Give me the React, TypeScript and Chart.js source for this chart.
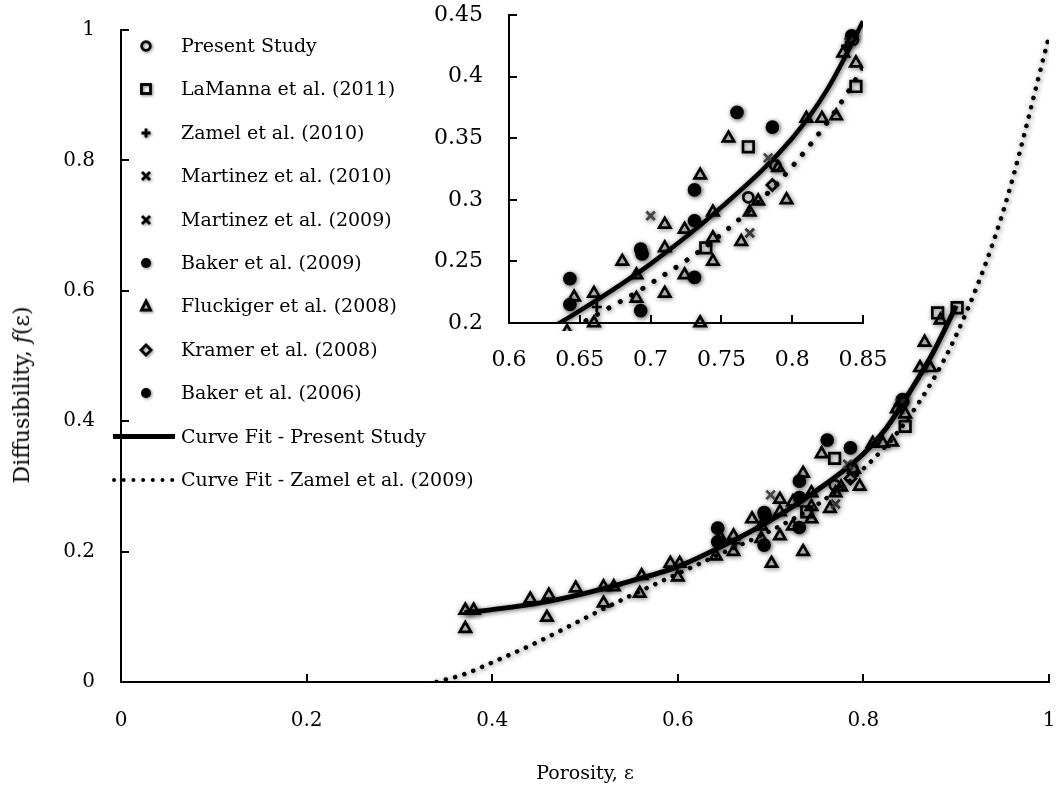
import React, { useEffect, useRef } from "react";
import { Chart, registerables } from "chart.js";

Chart.register(...registerables);

// ---------- tick values ----------
const mainXTicks = [0, 0.2, 0.4, 0.6, 0.8, 1];
const mainYTicks = [0, 0.2, 0.4, 0.6, 0.8, 1];
const insetXTicks = [0.6, 0.65, 0.7, 0.75, 0.8, 0.85];
const insetYTicks = [0.2, 0.25, 0.3, 0.35, 0.4, 0.45];

// ---------- series (porosity, diffusibility) ----------
const presentStudyX = [0.769, 0.788, 0.843];
const presentStudyY = [0.302, 0.328, 0.43];

const laMannaX = [0.739, 0.769, 0.845, 0.88, 0.901];
const laMannaY = [0.261, 0.343, 0.392, 0.566, 0.574];

const zamel2010X = [0.662, 0.838];
const zamel2010Y = [0.213, 0.425];

const martinez2010X = [0.7, 0.783];
const martinez2010Y = [0.287, 0.334];

const martinez2009X = [0.77, 0.84];
const martinez2009Y = [0.273, 0.428];

const baker2009X = [0.643, 0.643, 0.693, 0.694, 0.693, 0.731, 0.731, 0.731];
const baker2009Y = [0.236, 0.215, 0.26, 0.256, 0.21, 0.308, 0.283, 0.237];

const fluckigerX = [
  0.371, 0.38, 0.371, 0.441, 0.461, 0.459, 0.49, 0.52, 0.531, 0.52, 0.561, 0.559,
  0.592, 0.602, 0.6, 0.641, 0.701, 0.646, 0.66, 0.66, 0.68, 0.69, 0.69, 0.71,
  0.71, 0.71, 0.724, 0.724, 0.735, 0.735, 0.744, 0.744, 0.744, 0.755, 0.764, 0.77,
  0.776, 0.79, 0.796, 0.81, 0.821, 0.831, 0.836, 0.845, 0.861, 0.872, 0.866, 0.883,
];
const fluckigerY = [
  0.11, 0.11, 0.082, 0.127, 0.133, 0.099, 0.144, 0.146, 0.146, 0.121, 0.163, 0.136,
  0.182, 0.182, 0.161, 0.193, 0.182, 0.221, 0.224, 0.2, 0.25, 0.239, 0.22, 0.28,
  0.261, 0.224, 0.276, 0.239, 0.32, 0.2, 0.29, 0.269, 0.25, 0.35, 0.266, 0.29,
  0.299, 0.326, 0.3, 0.366, 0.366, 0.368, 0.419, 0.411, 0.482, 0.482, 0.521, 0.555,
];

const kramerX = [0.786];
const kramerY = [0.312];

const baker2006X = [0.761, 0.786, 0.842];
const baker2006Y = [0.371, 0.359, 0.433];

// curve fits
const fitPresentX = [0.37, 0.4, 0.45, 0.5, 0.55, 0.6, 0.65, 0.7, 0.75, 0.8, 0.825, 0.85, 0.875, 0.9];
const fitPresentY = [0.106, 0.111, 0.121, 0.136, 0.155, 0.177, 0.21, 0.248, 0.294, 0.35, 0.39, 0.445, 0.505, 0.577];

const fitZamelX = [0.34, 0.37, 0.4, 0.45, 0.5, 0.55, 0.6, 0.65, 0.7, 0.75, 0.8, 0.85, 0.9, 0.95, 1.0];
const fitZamelY = [0.0, 0.012, 0.03, 0.062, 0.098, 0.133, 0.166, 0.199, 0.232, 0.272, 0.327, 0.408, 0.532, 0.719, 0.99];

const FONT = "'DejaVu Serif', serif";

const zip = (xs: number[], ys: number[]) => xs.map((x, i) => ({ x, y: ys[i] }));

type Mk = { label: string; xs: number[]; ys: number[]; style: string; r: number; fill: boolean; color: string };

const markerSeries: Mk[] = [
  { label: "Present Study", xs: presentStudyX, ys: presentStudyY, style: "circle", r: 5, fill: false, color: "#000" },
  { label: "LaManna et al. (2011)", xs: laMannaX, ys: laMannaY, style: "rect", r: 7.5, fill: false, color: "#000" },
  { label: "Zamel et al. (2010)", xs: zamel2010X, ys: zamel2010Y, style: "cross", r: 5, fill: false, color: "#000" },
  { label: "Martinez et al. (2010)", xs: martinez2010X, ys: martinez2010Y, style: "crossRot", r: 6, fill: false, color: "#444" },
  { label: "Martinez et al. (2009)", xs: martinez2009X, ys: martinez2009Y, style: "crossRot", r: 6, fill: false, color: "#333" },
  { label: "Baker et al. (2009)", xs: baker2009X, ys: baker2009Y, style: "circle", r: 5.5, fill: true, color: "#000" },
  { label: "Fluckiger et al. (2008)", xs: fluckigerX, ys: fluckigerY, style: "triangle", r: 6.5, fill: false, color: "#000" },
  { label: "Kramer et al. (2008)", xs: kramerX, ys: kramerY, style: "rectRot", r: 5.5, fill: false, color: "#000" },
  { label: "Baker et al. (2006)", xs: baker2006X, ys: baker2006Y, style: "circle", r: 5.5, fill: true, color: "#000" },
];

function buildDatasets(inset: boolean) {
  const ds: any[] = markerSeries.map((m) => ({
    label: m.label,
    data: zip(m.xs, m.ys),
    pointStyle: m.style,
    pointRadius: m.r,
    pointBorderWidth: 2.7,
    pointBorderColor: m.color,
    pointBackgroundColor: m.fill ? m.color : "rgba(255,255,255,0)",
    showLine: false,
    clip: inset ? 8 : 10,
  }));
  ds.push({
    label: "Curve Fit - Present Study",
    data: zip(fitPresentX, fitPresentY),
    showLine: true,
    borderColor: "#000",
    borderWidth: inset ? 4.5 : 5,
    pointRadius: 0,
    cubicInterpolationMode: "monotone",
    clip: 0,
  });
  ds.push({
    label: "Curve Fit - Zamel et al. (2009)",
    data: zip(fitZamelX, fitZamelY),
    showLine: true,
    borderColor: "#000",
    borderWidth: inset ? 5 : 4.5,
    borderDash: inset ? [0.1, 13] : [0.1, 9.5],
    borderCapStyle: "round",
    pointRadius: 0,
    cubicInterpolationMode: "monotone",
    clip: 0,
  });
  return ds;
}

const insideTicks = {
  id: "insideTicks",
  afterDraw(chart: any, _args: any, opts: any) {
    const { ctx, chartArea, scales } = chart;
    const len = opts.len ?? 8;
    ctx.save();
    ctx.strokeStyle = "#000";
    ctx.lineWidth = 2;
    ctx.beginPath();
    scales.x.ticks.forEach((t: any) => {
      const px = Math.round(scales.x.getPixelForValue(t.value));
      ctx.moveTo(px, chartArea.bottom);
      ctx.lineTo(px, chartArea.bottom - len);
    });
    scales.y.ticks.forEach((t: any) => {
      const py = Math.round(scales.y.getPixelForValue(t.value));
      ctx.moveTo(chartArea.left, py);
      ctx.lineTo(chartArea.left + len, py);
    });
    ctx.stroke();
    ctx.restore();
  },
};

const shadowPlugin = {
  id: "markerShadow",
  beforeDatasetsDraw(chart: any) {
    const ctx = chart.ctx;
    ctx.save();
    ctx.shadowColor = "rgba(0,0,0,0.6)";
    ctx.shadowBlur = 5;
    ctx.shadowOffsetX = 1;
    ctx.shadowOffsetY = 1;
  },
  afterDatasetsDraw(chart: any) {
    chart.ctx.restore();
  },
};

const zeroPad = (s: any) => {
  s.paddingLeft = 0;
  s.paddingRight = 0;
  s.paddingTop = 0;
  s.paddingBottom = 0;
};

function makeOptions(p: {
  xMin: number; xMax: number; yMin: number; yMax: number;
  xTicks: number[]; yTicks: number[];
  padding: any; yWidth: number; xHeight: number;
  fontSize: number; yPad: number; xPad: number;
}) {
  const tickFont = { family: FONT, size: p.fontSize };
  return {
    responsive: false,
    animation: false,
    layout: { padding: p.padding },
    plugins: { legend: { display: false }, tooltip: { enabled: false }, insideTicks: { len: 8 } },
    scales: {
      x: {
        type: "linear",
        min: p.xMin,
        max: p.xMax,
        afterBuildTicks: (s: any) => { s.ticks = p.xTicks.map((v) => ({ value: v })); },
        afterFit: (s: any) => { s.height = p.xHeight; zeroPad(s); },
        grid: { display: false, drawTicks: false },
        border: { display: true, color: "#000", width: 2 },
        ticks: { color: "#000", font: tickFont, padding: p.xPad, maxRotation: 0, autoSkip: false, callback: (v: any) => String(v) },
      },
      y: {
        type: "linear",
        min: p.yMin,
        max: p.yMax,
        afterBuildTicks: (s: any) => { s.ticks = p.yTicks.map((v) => ({ value: v })); },
        afterFit: (s: any) => { s.width = p.yWidth; zeroPad(s); },
        grid: { display: false, drawTicks: false },
        border: { display: true, color: "#000", width: 2 },
        ticks: { color: "#000", font: tickFont, padding: p.yPad, autoSkip: false, callback: (v: any) => String(v) },
      },
    },
  };
}

function LegendMarker({ kind, color }: { kind: string; color: string }) {
  const c = color;
  const common = { stroke: c, strokeWidth: 2.8, fill: "none" } as any;
  let el: any = null;
  if (kind === "circle") el = <circle cx={8} cy={8} r={4.3} {...common} />;
  else if (kind === "filled") el = <circle cx={8} cy={8} r={5} fill={c} />;
  else if (kind === "rect") el = <rect x={3.5} y={3.5} width={9} height={9} {...common} />;
  else if (kind === "cross") el = <path d="M8 3.5 V12.5 M3.5 8 H12.5" {...common} />;
  else if (kind === "crossRot") el = <path d="M4 4 L12 12 M12 4 L4 12" {...common} />;
  else if (kind === "triangle") el = <path d="M8 3 L12.5 12 L3.5 12 Z" {...common} strokeLinejoin="miter" />;
  else if (kind === "rectRot") el = <path d="M8 3 L13 8 L8 13 L3 8 Z" {...common} />;
  return (
    <svg width={16} height={16} style={{ position: "absolute", left: 138, top: -8, filter: "drop-shadow(1px 1px 1.5px rgba(0,0,0,0.5))" }}>
      {el}
    </svg>
  );
}

const legendRows = [
  { label: "Present Study", kind: "circle", color: "#000" },
  { label: "LaManna et al. (2011)", kind: "rect", color: "#000" },
  { label: "Zamel et al. (2010)", kind: "cross", color: "#000" },
  { label: "Martinez et al. (2010)", kind: "crossRot", color: "#000" },
  { label: "Martinez et al. (2009)", kind: "crossRot", color: "#000" },
  { label: "Baker et al. (2009)", kind: "filled", color: "#000" },
  { label: "Fluckiger et al. (2008)", kind: "triangle", color: "#000" },
  { label: "Kramer et al. (2008)", kind: "rectRot", color: "#000" },
  { label: "Baker et al. (2006)", kind: "filled", color: "#000" },
  { label: "Curve Fit - Present Study", kind: "solid", color: "#000" },
  { label: "Curve Fit - Zamel et al. (2009)", kind: "dotted", color: "#000" },
];

export default function App() {
  const mainRef = useRef<HTMLCanvasElement | null>(null);
  const insetRef = useRef<HTMLCanvasElement | null>(null);

  useEffect(() => {
    const main = new Chart(mainRef.current as HTMLCanvasElement, {
      type: "scatter",
      data: { datasets: buildDatasets(false) },
      options: makeOptions({
        xMin: 0, xMax: 1, yMin: 0, yMax: 1,
        xTicks: mainXTicks, yTicks: mainYTicks,
        padding: { left: 0, top: 30, right: 11, bottom: 0 },
        yWidth: 121, xHeight: 114, fontSize: 20, yPad: 26, xPad: 27,
      }) as any,
      plugins: [insideTicks, shadowPlugin],
    });
    const inset = new Chart(insetRef.current as HTMLCanvasElement, {
      type: "scatter",
      data: { datasets: buildDatasets(true) },
      options: makeOptions({
        xMin: 0.6, xMax: 0.85, yMin: 0.2, yMax: 0.45,
        xTicks: insetXTicks, yTicks: insetYTicks,
        padding: { left: 0, top: 15, right: 57, bottom: 0 },
        yWidth: 89, xHeight: 57, fontSize: 22, yPad: 26, xPad: 24,
      }) as any,
      plugins: [insideTicks, shadowPlugin],
    });
    return () => {
      main.destroy();
      inset.destroy();
    };
  }, []);

  const rowTop = (i: number) => 46 + i * 43.4;

  return (
    <div style={{ position: "absolute", left: 0, top: 0, width: 1060, height: 796, background: "#fff", overflow: "hidden" }}>
      <canvas ref={mainRef} width={1060} height={796} style={{ position: "absolute", left: 0, top: 0 }} />
      <canvas ref={insetRef} width={500} height={380} style={{ position: "absolute", left: 420, top: 0 }} />
      {legendRows.map((r, i) => (
        <div key={r.label} style={{ position: "absolute", left: 0, top: rowTop(i), width: 480, height: 0 }}>
          {r.kind === "solid" ? (
            <div style={{ position: "absolute", left: 113, top: -2.5, width: 62, height: 5, background: "#000" }} />
          ) : r.kind === "dotted" ? (
            <svg width={64} height={8} style={{ position: "absolute", left: 111, top: -4 }}>
              {[0, 1, 2, 3, 4, 5, 6].map((k) => (
                <circle key={k} cx={3 + k * 9.7} cy={4} r={2} fill="#000" />
              ))}
            </svg>
          ) : (
            <LegendMarker kind={r.kind} color={r.color} />
          )}
          <span
            style={{
              position: "absolute",
              left: 181,
              top: 0,
              transform: "translateY(-55%)",
              fontFamily: FONT,
              fontSize: 19,
              whiteSpace: "nowrap",
              color: "#000",
              lineHeight: 1,
            }}
          >
            {r.label}
          </span>
        </div>
      ))}
      <div
        style={{
          position: "absolute",
          left: 585,
          top: 772,
          transform: "translate(-50%, -50%)",
          fontFamily: FONT,
          fontSize: 19,
          whiteSpace: "nowrap",
          lineHeight: 1,
        }}
      >
        Porosity, ε
      </div>
      <div
        style={{
          position: "absolute",
          left: 22,
          top: 395,
          transform: "translate(-50%, -50%) rotate(-90deg)",
          fontFamily: FONT,
          fontSize: 22,
          whiteSpace: "nowrap",
          lineHeight: 1,
        }}
      >
        Diffusibility, <i>f</i>(ε)
      </div>
    </div>
  );
}
